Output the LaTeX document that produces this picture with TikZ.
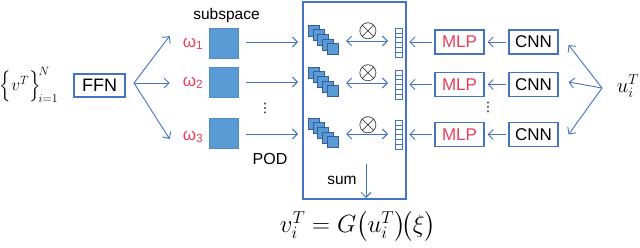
\documentclass[tikz,border=0pt]{standalone}
\usepackage{amsmath}
\usepackage{fontspec}
\setmainfont{Liberation Sans}
\newfontfamily\dejavu{DejaVu Sans}
\usetikzlibrary{arrows.meta}
\definecolor{bl}{RGB}{68,114,196}
\definecolor{sq}{RGB}{91,155,213}
\definecolor{rd}{RGB}{232,62,92}
\begin{document}
\begin{tikzpicture}[x=1pt,y=-1pt,
  arr/.style={draw=bl, line width=0.9pt, -{Straight Barb[length=5pt,width=10pt]}},
  darr/.style={draw=bl, line width=0.9pt, {Straight Barb[length=5pt,width=10pt]}-{Straight Barb[length=5pt,width=10pt]}},
  boxn/.style={draw=bl, line width=1.2pt, minimum width=49pt, minimum height=24pt, inner sep=0pt, font=\fontsize{17}{19}\selectfont},
  sqn/.style={fill=sq, draw=sq!90!black, line width=0.3pt, minimum width=29pt, minimum height=30pt, inner sep=0pt},
  wlab/.style={text=rd, font=\fontsize{17}{19}\selectfont, inner sep=0pt},
  ghost/.style={minimum width=31pt, minimum height=30pt, inner sep=0pt},
  vdot/.style={font=\dejavu\fontsize{13}{15}\selectfont, inner sep=0pt}
]
\useasboundingbox (0,0) rectangle (640,248);

% input set
\node[font=\fontsize{17}{19}\selectfont, inner sep=0pt] (vset) at (29,85) {$\Bigl\{v^T\Bigr\}_{\!i=1}^{\!N}$};
\node[boxn, minimum width=51pt, minimum height=23pt, font=\fontsize{18}{20}\selectfont] (ffn) at (99.5,85.5) {FFN};
\coordinate (fork) at (134,83);

% omegas and subspace squares
\node[wlab] (w1) at (193,44) {ω\textsubscript{1}};
\node[wlab] (w2) at (193,83) {ω\textsubscript{2}};
\node[wlab] (w3) at (193,137) {ω\textsubscript{3}};
\draw[arr] (fork) -- ([xshift=-13pt,yshift=8pt]w1.west);
\draw[arr] (fork) -- ([xshift=-13pt]w2.west);
\draw[arr] (fork) -- ([xshift=-13pt,yshift=-2pt]w3.west);

\node[sqn] (s1) at (223.5,43) {};
\node[sqn] (s2) at (223.5,82.5) {};
\node[sqn] (s3) at (223.5,133.5) {};
\node[font=\fontsize{15.5}{17}\selectfont, inner sep=0pt, anchor=base] (subsp) at (226.5,20) {subspace};
\node[vdot] (dots1) at (265,108) {⋮};
\node[font=\fontsize{16}{18}\selectfont, inner sep=0pt] (pod) at (270,159) {POD};

% big box
\node[draw=bl, line width=1.2pt, minimum width=103pt, minimum height=197pt, inner sep=0pt] (big) at (354.5,100.5) {};

% stacks
\foreach \i/\y in {1/25,2/67,3/118}{
  \foreach \k in {0,...,4}{
    \draw[fill=sq, draw=bl!80!black, line width=0.35pt] (308+4.8*\k, \y+4.6*\k) rectangle ++(11,11);
  }
  \node[ghost] (st\i) at (323.5,\y+15) {};
}
\draw[arr] ([xshift=8pt]s1.east |- 0,42) -- (298,42);
\draw[arr] ([xshift=8pt]s2.east |- 0,82) -- (298,82);
\draw[arr] ([xshift=8pt]s3.east |- 0,134) -- (298,134);

% vectors
\foreach \i/\y in {1/28,2/70,3/120}{
  \node[draw=bl, line width=0.9pt, minimum width=7pt, minimum height=29pt, inner sep=0pt] (vec\i) at (398.5,\y+14.5) {};
  \foreach \k in {1,...,5}{
    \draw[bl, line width=0.6pt] (395,\y+4.83*\k) -- (402,\y+4.83*\k);
  }
}
% double arrows and otimes
\foreach \i/\y/\oy in {1/41/31,2/83/73,3/134/125}{
  \draw[darr] (346,\y) -- (388,\y);
  \node[font=\fontsize{25}{27}\selectfont, inner sep=0pt] (ot\i) at (368,\oy) {$\otimes$};
}

% sum
\node[font=\fontsize{15.5}{17}\selectfont, inner sep=0pt] (sum) at (342,180) {sum};
\draw[arr] (366,164) -- (366,198);

% formula
\node[font=\fontsize{24}{26}\selectfont, inner sep=0pt] (eq) at (358,226) {$v_i^T = G\bigl(u_i^T\bigr)\!\bigl(\xi\bigr)$};

% right side
\foreach \i/\y in {1/42,2/84.5,3/134.5}{
  \node[boxn, text=rd] (mlp\i) at (459.5,\y) {MLP};
  \node[boxn] (cnn\i) at (533.5,\y) {CNN};
  \draw[arr] ([xshift=-2pt]cnn\i.west) -- ([xshift=3pt]mlp\i.east);
  \draw[arr] ([xshift=-2pt]mlp\i.west) -- ([xshift=-25pt]mlp\i.west);
}
\node[vdot] (dots2) at (488,107) {⋮};

\node[font=\fontsize{21}{23}\selectfont, inner sep=0pt] (u) at (628,86) {$u_i^T$};
\coordinate (ufork) at (602,88);
\draw[arr] (ufork) -- ([xshift=10pt,yshift=-3pt]cnn1.east);
\draw[arr] (ufork) -- ([xshift=10pt,yshift=2.5pt]cnn2.east);
\draw[arr] (ufork) -- ([xshift=10pt]cnn3.east);
\end{tikzpicture}
\end{document}
